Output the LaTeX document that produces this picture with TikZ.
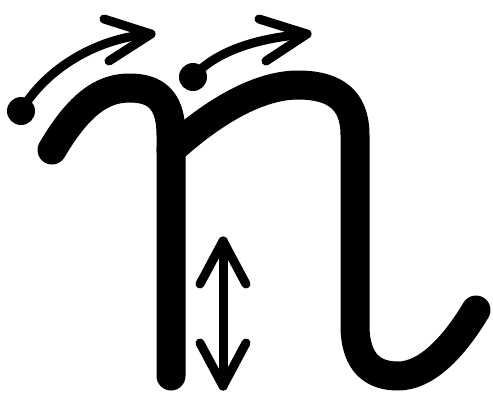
\documentclass[tikz,border=0pt]{standalone}
\begin{document}
\begin{tikzpicture}[x=1pt,y=-1pt,
  glyph/.style={line width=29pt,line cap=round,line join=round},
  thin/.style={line width=9pt,line cap=round,line join=round},
  dotfill/.style={fill=black}]
\useasboundingbox (0,0) rectangle (493,392);
% main glyph
\draw[glyph] (52,150) .. controls (83,97) and (108,88) .. (130,88)
  .. controls (160,88) and (171,105) .. (171,135) -- (171,376);
\draw[glyph] (171,150) .. controls (215,110) and (260,85) .. (298,85)
  .. controls (335,85) and (355,100) .. (355,135) -- (355,325)
  .. controls (355,365) and (375,376) .. (398,376)
  .. controls (425,376) and (452,350) .. (476,310);
% left arc arrow
\coordinate (d1) at (21,111);
\coordinate (t1) at (151,34);
\fill[dotfill] (d1) circle (14);
\draw[thin] (d1) .. controls (45,70) and (95,38) .. (t1);
\draw[thin] (104,19) -- (t1) -- (109,61);
% right arc arrow
\coordinate (d2) at (193,77);
\coordinate (t2) at (307,34);
\fill[dotfill] (d2) circle (14);
\draw[thin] (d2) .. controls (215,52) and (255,38) .. (t2);
\draw[thin] (259,19) -- (t2) -- (266,61);
% double arrow
\coordinate (ua) at (223,241);
\coordinate (la) at (223,386);
\draw[thin] (ua) -- (la);
\draw[thin] (200,284) -- (ua) -- (246,284);
\draw[thin] (200,343) -- (la) -- (246,343);
\end{tikzpicture}
\end{document}
